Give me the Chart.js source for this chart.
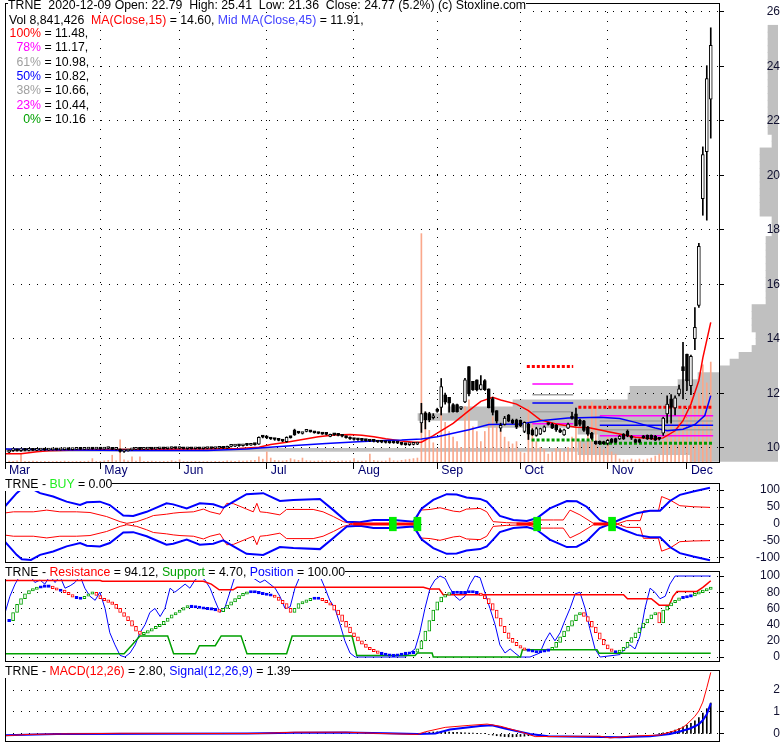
<!DOCTYPE html>
<html>
<head>
<meta charset="utf-8">
<title>TRNE</title>
<script src="https://cdn.jsdelivr.net/npm/chart.js@4.4.0/dist/chart.umd.min.js"></script>
<style>
  html, body { margin: 0; padding: 0; background: #fff; }
  #wrap { position: relative; width: 780px; height: 745px; overflow: hidden;
          font-family: Arial, "Liberation Sans", sans-serif; font-size: 12.3px; }
  canvas { position: absolute; left: 0; }
  .txt { position: absolute; white-space: pre; background: #fff; line-height: 14px; color: #000; }
  .pct { display: inline-block; width: 34px; text-align: right; }
</style>
</head>
<body>
<div id="wrap">
  <canvas id="cProfile" width="780" height="490" style="top:-10px"></canvas>
  <canvas id="cPrice" width="780" height="490" style="top:-10px"></canvas>
  <canvas id="cBuy" width="780" height="99" style="top:473px"></canvas>
  <canvas id="cPos" width="780" height="110" style="top:561px"></canvas>
  <canvas id="cMacd" width="780" height="91" style="top:660px"></canvas>

  <div class="txt" style="left:8px;top:-2px">TRNE  2020-12-09 Open: 22.79  High: 25.41  Low: 21.36  Close: 24.77 (5.2%) (c) Stoxline.com</div>
  <div class="txt" style="left:9px;top:13px">Vol 8,841,426  <span style="color:#ff0000">MA(Close,15)</span> = 14.60, <span style="color:#4040ff">Mid MA(Close,45)</span> = 11.91,</div>
  <div class="txt" style="left:7px;top:26px"><span class="pct" style="color:#ff0000">100%</span> = 11.48,</div>
  <div class="txt" style="left:7px;top:40px"><span class="pct" style="color:#ff00ff">78%</span> = 11.17,</div>
  <div class="txt" style="left:7px;top:55px"><span class="pct" style="color:#a0a0a0">61%</span> = 10.98,</div>
  <div class="txt" style="left:7px;top:69px"><span class="pct" style="color:#0000ff">50%</span> = 10.82,</div>
  <div class="txt" style="left:7px;top:83px"><span class="pct" style="color:#a0a0a0">38%</span> = 10.66,</div>
  <div class="txt" style="left:7px;top:98px"><span class="pct" style="color:#ff00ff">23%</span> = 10.44,</div>
  <div class="txt" style="left:7px;top:112px"><span class="pct" style="color:#00a000">0%</span> = 10.16</div>

  <div class="txt" style="left:5px;top:477px">TRNE - <span style="color:#22ee22">BUY</span> = 0.00</div>
  <div class="txt" style="left:5px;top:565px">TRNE - <span style="color:#ff0000">Resistance</span> = 94.12, <span style="color:#00a000">Support</span> = 4.70, <span style="color:#0000ff">Position</span> = 100.00</div>
  <div class="txt" style="left:5px;top:664px">TRNE - <span style="color:#ff0000">MACD(12,26)</span> = 2.80, <span style="color:#0000ff">Signal(12,26,9)</span> = 1.39</div>
</div>

<script>
// ==================== DATA ====================

// month labels on the time axis (bar index of first session of the month)
const monthIdx = [-1.04, 23, 43, 65, 87, 108, 129, 151, 171];
const monthNames = ['Mar', 'May', 'Jun', 'Jul', 'Aug', 'Sep', 'Oct', 'Nov', 'Dec'];

const priceTicks = [10, 12, 14, 16, 18, 20, 22, 24, 26];
const buyTicks = [-100, -50, 0, 50, 100];
const posTicks = [0, 20, 40, 60, 80, 100];
const macdTicks = [0, 1, 2];

// daily OHLC, 2020-03-30 .. 2020-12-09
const open = [
  9.84,9.89,9.92,9.89,9.92,9.90,9.91,9.90,9.91,9.92, 9.91,9.92,9.93,9.92,9.93,9.94,9.93,9.94,9.95,9.94,
  9.95,9.96,9.95,9.96,9.95,9.97,10.00,9.94,9.95,9.86, 9.88,9.92,9.94,9.95,9.94,9.95,9.96,9.95,9.96,9.97,
  9.96,9.97,10.01,9.97,10.00,9.96,9.97,9.96,9.97,9.96, 9.97,9.98,9.97,9.98,9.99,9.98,10.05,10.06,10.08,10.07,
  10.10,10.09,10.12,10.13,10.40,10.39,10.36,10.32,10.30,10.27, 10.22,10.38,10.65,10.55,10.52,10.60,10.61,10.56,10.55,10.52,
  10.50,10.41,10.49,10.47,10.44,10.42,10.38,10.32,10.30,10.29, 10.27,10.26,10.24,10.23,10.21,10.20,10.19,10.22,10.18,10.16,
  10.12,10.11,10.12,10.13,10.91,11.28,11.25,11.10,11.40,11.48, 11.94,11.85,11.58,11.58,11.44,11.68,12.98,12.44,12.49,12.14,
  12.46,12.16,11.80,11.36,10.72,10.85,11.20,11.00,11.02,11.00, 10.60,10.87,10.66,10.45,10.50,10.60,10.90,10.87,10.82,10.66,
  10.47,10.72,11.16,11.24,11.00,10.99,10.75,10.54,10.23,10.23, 10.22,10.16,10.32,10.33,10.32,10.50,10.60,10.40,10.30,10.30,
  10.43,10.45,10.45,10.43,10.33,10.53,11.24,11.79,11.46,11.97, 12.98,13.44,12.28,14.00,15.22,19.14,20.86,22.79
];
const high = [
  9.91,9.93,9.94,9.93,9.93,9.92,9.93,9.92,9.93,9.93, 9.93,9.94,9.94,9.94,9.95,9.95,9.95,9.96,9.96,9.96,
  9.97,9.98,9.97,9.98,9.98,10.02,10.01,9.96,9.96,9.89, 9.93,9.95,9.96,9.96,9.96,9.97,9.97,9.97,9.98,9.98,
  9.98,10.02,10.02,10.02,10.01,9.98,9.98,9.98,9.99,9.98, 9.99,9.99,9.99,10.00,10.01,10.06,10.08,10.09,10.10,10.11,
  10.12,10.13,10.14,10.40,10.43,10.41,10.37,10.34,10.31,10.29, 10.40,10.40,10.68,10.58,10.56,10.64,10.63,10.58,10.57,10.54,
  10.52,10.50,10.51,10.49,10.46,10.43,10.40,10.34,10.32,10.30, 10.29,10.28,10.26,10.25,10.23,10.22,10.21,10.23,10.20,10.17,
  10.14,10.13,10.14,10.20,11.63,11.32,11.30,11.25,11.45,12.54, 12.00,11.85,11.62,11.60,11.50,12.55,12.98,12.44,12.49,12.65,
  12.50,12.16,11.85,11.36,10.90,11.15,11.22,11.05,11.05,11.02, 10.95,10.90,10.70,10.75,10.72,10.80,10.92,10.90,10.85,10.70,
  10.68,10.90,11.30,11.45,11.05,11.00,10.78,10.56,10.25,10.25, 10.24,10.30,10.34,10.35,10.45,10.52,10.65,10.45,10.32,10.32,
  10.45,10.47,10.47,10.45,10.38,11.12,11.90,11.95,11.90,12.30, 13.87,13.44,13.40,15.14,17.50,21.04,24.02,25.41
];
const low = [
  9.82,9.86,9.87,9.86,9.88,9.88,9.89,9.89,9.90,9.90, 9.90,9.91,9.91,9.91,9.92,9.92,9.92,9.93,9.93,9.93,
  9.94,9.94,9.94,9.94,9.94,9.96,9.93,9.92,9.84,9.83, 9.87,9.91,9.93,9.93,9.93,9.94,9.94,9.94,9.95,9.95,
  9.95,9.96,9.96,9.96,9.95,9.94,9.95,9.95,9.95,9.95, 9.96,9.96,9.96,9.97,9.97,9.97,10.03,10.04,10.05,10.06,
  10.07,10.08,10.09,10.12,10.36,10.33,10.30,10.27,10.25,10.22, 10.20,10.35,10.45,10.52,10.50,10.58,10.57,10.53,10.51,10.49,
  10.47,10.40,10.45,10.43,10.40,10.35,10.30,10.28,10.27,10.25, 10.24,10.22,10.21,10.19,10.18,10.17,10.16,10.16,10.15,10.10,
  10.09,10.08,10.10,10.11,10.56,10.69,10.95,11.05,11.30,11.20, 11.60,11.30,11.30,11.30,11.40,11.65,11.90,12.10,12.08,12.12,
  12.10,11.46,11.20,10.90,10.60,10.83,10.95,10.88,10.70,10.78, 10.55,10.30,10.45,10.42,10.48,10.58,10.83,10.70,10.60,10.55,
  10.45,10.70,11.05,10.80,10.80,10.60,10.45,10.30,10.12,10.12, 10.12,10.10,10.17,10.18,10.30,10.30,10.40,10.30,10.18,10.18,
  10.34,10.30,10.30,10.26,10.28,10.45,10.90,10.90,11.20,11.90, 11.79,12.10,11.95,13.60,15.15,18.53,18.35,21.36
];
const close = [
  9.90,9.92,9.89,9.92,9.90,9.91,9.90,9.91,9.92,9.91, 9.92,9.93,9.92,9.93,9.94,9.93,9.94,9.95,9.94,9.95,
  9.96,9.95,9.96,9.95,9.97,10.00,9.94,9.95,9.86,9.88, 9.92,9.94,9.95,9.94,9.95,9.96,9.95,9.96,9.97,9.96,
  9.97,10.01,9.97,10.00,9.96,9.97,9.96,9.97,9.96,9.97, 9.98,9.97,9.98,9.99,9.98,10.05,10.06,10.08,10.07,10.10,
  10.09,10.12,10.11,10.38,10.39,10.36,10.32,10.30,10.27,10.24, 10.38,10.37,10.47,10.54,10.53,10.61,10.58,10.55,10.52,10.50,
  10.49,10.49,10.47,10.45,10.42,10.37,10.32,10.30,10.29,10.27, 10.26,10.24,10.23,10.21,10.20,10.19,10.18,10.18,10.17,10.12,
  10.11,10.12,10.13,10.18,11.25,11.03,11.03,11.13,11.33,12.24, 11.67,11.63,11.32,11.32,11.46,12.49,11.97,12.12,12.12,12.32,
  12.13,11.46,11.29,10.97,10.82,11.09,10.97,10.90,10.75,10.80, 10.93,10.50,10.47,10.70,10.70,10.77,10.85,10.72,10.65,10.57,
  10.66,10.87,11.07,10.81,10.85,10.63,10.50,10.34,10.14,10.14, 10.14,10.27,10.19,10.20,10.43,10.32,10.43,10.35,10.20,10.20,
  10.36,10.32,10.32,10.28,10.31,11.09,11.60,11.48,11.83,12.16, 12.83,12.46,13.35,14.42,17.39,20.76,23.55,24.77
];
// volume, millions of shares
const volume = [
  0.08,0.05,0.1,0.7,0.06,0.05,0.08,0.05,0.04,0.06, 0.05,0.04,0.06,0.05,0.08,0.05,0.04,0.05,0.06,0.05,
  0.08,0.3,0.05,0.06,0.1,0.15,0.6,0.1,1.95,0.2, 0.1,0.45,0.08,0.45,0.06,0.05,0.08,0.05,0.04,0.06,
  0.05,0.12,0.06,0.2,0.05,0.04,0.05,0.06,0.05,0.04, 0.05,0.04,0.06,0.05,0.06,0.1,0.08,0.06,0.1,0.08,
  0.1,0.12,0.15,0.45,0.25,0.9,0.35,0.15,0.12,0.1, 0.15,0.3,0.2,0.15,0.35,0.12,0.1,0.08,0.1,0.12,
  0.08,0.1,0.06,0.08,0.1,0.08,0.1,0.3,0.1,0.08, 0.1,0.7,0.15,0.1,0.08,0.1,0.35,0.12,0.1,0.15,
  0.2,0.25,0.3,0.35,20.2,4.4,2.8,1.7,1.2,5.3, 3.5,2.7,2.2,1.8,1.3,4.9,5.5,3.1,2.7,1.8,
  2.7,3.5,4.0,3.1,2.7,2.2,1.8,1.6,1.8,0.9, 0.8,4.9,3.5,1.8,1.3,1.1,0.7,0.9,1.2,1.1,
  0.9,1.3,2.2,3.5,1.8,1.6,2.7,5.3,4.9,1.3, 1.1,2.2,0.9,0.7,0.27,0.18,0.18,0.27,0.18,0.27,
  0.18,0.27,0.35,0.53,0.7,1.9,2.7,3.4,3.1,4.0, 4.8,4.2,5.7,4.9,6.1,8.6,7.0,8.84
];

// moving averages: [bar index, value]
const ma15 = [
  [-1,9.78],[3,9.78],[7,9.85],[10,9.89],[20,9.92],[30,9.93],[40,9.94],[50,9.95],[58,9.97],[63,10.02],
  [66,10.12],[70,10.2],[74,10.3],[78,10.4],[82,10.47],[86,10.48],[89,10.46],[92,10.4],[95,10.33],[99,10.25],
  [102,10.2],[104,10.2],[107,10.44],[112,10.89],[116,11.36],[119,11.7],[122,11.85],[124,11.75],[128,11.6],
  [131,11.36],[134,11.02],[138,10.87],[143,10.75],[146,10.74],[150,10.62],[154,10.5],[158,10.38],[163,10.32],
  [165,10.36],[168,10.62],[170,10.99],[172,11.6],[174,12.46],[175,13.3],[176,13.95],[177,14.6]
];
const ma45 = [
  [-1,9.95],[10,9.92],[30,9.9],[50,9.9],[60,9.95],[64,10.0],[72,10.08],[80,10.15],[88,10.22],[96,10.27],
  [99,10.28],[104,10.32],[108,10.4],[116,10.66],[121,10.85],[129,10.87],[134,10.99],[141,11.09],[149,11.12],
  [154,11.07],[158,10.93],[163,10.72],[166,10.62],[170,10.68],[173,10.85],[175.5,11.18],[177,11.91]
];

// Fibonacci retracement sets: levels 100,78,61,50,38,23,0 %
const fibA = [12.98, 12.34, 11.94, 11.64, 11.32, 10.88, 10.28];
const fibAFrom = [130.6, 132, 132, 132, 132, 132, 131.8];
const fibATo = [142.3, 142.3, 142.3, 142.3, 142.3, 142.3, 147.4];
const fibB = [11.48, 11.17, 10.98, 10.82, 10.66, 10.44, 10.16];
const fibBFrom = [143.6, 149, 149, 149, 149, 149, 148.8];
const fibBTo = [177.6, 177.6, 177.6, 177.6, 177.6, 177.6, 177.6];

// volume at price, bins of 0.25 starting at 9.5 (relative length)
const profileStart = 9.5;
const profileLen = [
  88, 200, 200, 180, 200, 300, 360, 330, 265, 150, 148, 100, 80, 58, 48, 39, 26, 22, 22, 26, 26, 26, 26,
  12, 12, 12, 12, 12, 12, 12, 12, 12, 12,
  6, 6, 6,
  18, 18, 18, 18, 18, 18, 18, 18, 18, 18,
  6, 6,
  10, 10, 10, 10, 10, 10, 10, 10, 10, 10, 10, 10, 10, 10, 10, 10
];
const profileMax = 773;
const profilePeak = [9.92, 773];

// BUY panel lines: [bar index, value]
const buyBlueUp = [
  [-1.5,46],[1.9,91],[3.2,104],[5.5,106],[7.8,91],[11.1,81],[14.5,66],[17.9,56],[19.6,64],[22.9,66],[25.4,56],
  [28.8,25],[31.3,24],[34.7,36],[39.7,61],[41.4,58],[44.8,46],[48.1,61],[51.5,58],[54,48],[56.6,66],[59.9,88],
  [64.1,91],[68.3,68],[71.7,71],[78.4,74],[81.8,41],[85.2,7],[88.5,5],[91.9,12],[97,12],[102,7],[104.1,46],
  [107,71],[110.4,88],[112.9,87],[115.4,78],[118.8,74],[120.5,66],[122.1,46],[123.8,24],[127.2,12],[130.6,9],
  [133.1,17],[136.4,46],[140.7,68],[143.2,67],[145.7,51],[149,12],[151.6,0],[154.9,17],[158.3,32],[161.7,39],
  [164.2,39],[166.7,68],[169.2,86],[172.6,96],[176.8,107]
];
const buyBlueDn = [
  [-1.5,-46],[1.9,-91],[3.2,-104],[5.5,-106],[7.8,-91],[11.1,-81],[14.5,-66],[17.9,-56],[19.6,-64],[22.9,-66],[25.4,-56],
  [28.8,-25],[31.3,-24],[34.7,-36],[39.7,-61],[41.4,-58],[44.8,-46],[48.1,-61],[51.5,-58],[54,-48],[56.6,-66],[59.9,-88],
  [64.1,-91],[68.3,-68],[71.7,-71],[78.4,-74],[81.8,-41],[85.2,-7],[88.5,-5],[91.9,-12],[97,-12],[102,-7],[104.1,-46],
  [107,-71],[110.4,-88],[112.9,-87],[115.4,-78],[118.8,-74],[120.5,-66],[122.1,-46],[123.8,-24],[127.2,-12],[130.6,-9],
  [133.1,-17],[136.4,-46],[140.7,-68],[143.2,-67],[145.7,-51],[149,-12],[151.6,0],[154.9,-17],[158.3,-32],[161.7,-39],
  [164.2,-39],[166.7,-68],[169.2,-86],[172.6,-96],[176.8,-107]
];
const buyRedUp = [
  [-1.5,32],[1.1,36],[6.1,36],[9.5,41],[12.8,36],[17,36],[20.4,34],[24.6,22],[28,7],[29.7,2],[32.2,7],[34.7,17],
  [36.4,25],[39.7,29],[41.4,32],[43.1,34],[46.5,36],[49,44],[50.7,36],[53.2,29],[54.9,61],[56.6,60],[59.9,44],
  [61.6,36],[62.5,61],[63.3,36],[65,34],[68.3,27],[70,43],[76.7,43],[79.2,36],[81.8,22],[84.3,7],[86.8,0],
  [102.4,0],[103.6,41],[106.2,43],[108.7,48],[112.1,38],[113.7,36],[115.4,44],[118.8,46],[120.5,36],[122.1,7],
  [125.5,4],[130.6,2],[133.9,12],[137.3,12],[139.8,12],[141.5,41],[144,27],[147.4,2],[150.8,0],[153.3,0],
  [155.8,10],[159.2,10],[160,39],[163.8,39],[164.6,81],[166.7,71],[169.2,54],[172.6,51],[176.8,49]
];
const buyRedDn = [
  [-1.5,-32],[1.1,-36],[6.1,-36],[9.5,-41],[12.8,-36],[17,-36],[20.4,-34],[24.6,-22],[28,-7],[29.7,-2],[32.2,-7],[34.7,-17],
  [36.4,-25],[39.7,-29],[41.4,-32],[43.1,-34],[46.5,-36],[49,-44],[50.7,-36],[53.2,-29],[54.9,-61],[56.6,-60],[59.9,-44],
  [61.6,-36],[62.5,-61],[63.3,-36],[65,-34],[68.3,-27],[70,-43],[76.7,-43],[79.2,-36],[81.8,-22],[84.3,-7],[86.8,0],
  [102.4,0],[103.6,-41],[106.2,-43],[108.7,-48],[112.1,-38],[113.7,-36],[115.4,-44],[118.8,-46],[120.5,-36],[122.1,-7],
  [125.5,-4],[130.6,-2],[133.9,-12],[137.3,-12],[139.8,-12],[141.5,-41],[144,-27],[147.4,-2],[150.8,0],[153.3,0],
  [155.8,-10],[159.2,-10],[160,-42],[163.8,-42],[164.6,-80],[166.7,-71],[169.2,-52],[172.6,-50],[176.8,-49]
];
// flat stretches of the BUY signal, [from, to]
const buyFlat = [[86.8, 103.6], [128, 132.5], [147.4, 153.3]];
// BUY signal markers (bar index)
const buySignals = [96.8, 103, 133.2, 152.1];

// Resistance / Support / Position panel
const resistance = [
  [-1,94.5],[23,94.5],[23.5,93.5],[49,93.5],[51,90],[53,83],[56.5,83],[57.5,86],[104.5,86],[106,84],[108.5,84],
  [109.5,77],[155,77],[156,72],[162,72],[164,64],[166.5,64],[167.5,75],[168.5,81],[173.5,81],[175,86],[176,90],[177,94.12]
];
const support = [
  [-1,4],[29,4],[31,15],[33,26],[40,26],[41.5,4],[47,4],[48,14],[52,14],[53.5,26],[58.5,26],[60,4],[70,4],
  [71.4,26],[86.5,26],[87.7,2],[102.4,2],[103,5],[106.7,5],[107,0],[129,0],[129.5,9],[148.3,9],[148.8,4.7],[177,4.7]
];
const position = [
  [-1,55],[0.2,75],[1.5,90],[2.7,100],[4,97],[5.3,100],[6.5,92],[7.8,95],[9,90],[10.3,100],[11.6,92],[12.8,100],
  [14.1,85],[15.4,88],[16.6,92],[17.9,100],[19.1,85],[20.4,75],[21.7,70],[22.9,80],[24.2,60],[25.4,30],[26.7,15],
  [28,2],[29.2,0],[30.5,5],[31.8,15],[33,30],[34.3,40],[35.5,55],[36.8,60],[38.1,50],[39.3,60],[40.6,85],[41.8,80],
  [43.1,85],[44.4,90],[45.6,85],[46.9,95],[48.1,100],[49.4,95],[50.7,85],[51.9,70],[53.2,55],[54.5,62],[55.7,80],
  [57,100],[60.8,100],[63.3,92],[64.5,95],[65.8,90],[67.1,85],[68.3,75],[69.6,60],[70.9,62],[72.1,85],[73.4,100],
  [78.4,100],[79.7,85],[80.9,70],[82.2,60],[83.5,40],[84.7,20],[86,5],[87.3,0],[99.9,0],[101.1,5],[102.4,10],
  [103.6,30],[104.9,60],[106.2,85],[107.4,95],[108.7,100],[110,97],[111.2,85],[112.5,75],[113.7,70],[115,75],
  [116.3,90],[117.5,100],[118.8,98],[120,80],[121.3,60],[122.6,40],[123.8,15],[125.1,5],[126.4,10],[127.6,5],
  [128.9,0],[131.4,0],[133.9,5],[135.2,20],[136.4,30],[137.7,20],[139,30],[140.2,45],[141.5,60],[142.8,78],
  [144,80],[145.3,60],[146.5,35],[147.8,10],[149.1,0],[154.1,3],[155.4,10],[156.6,15],[157.9,10],[159.1,25],
  [160.4,60],[161.7,85],[162.9,80],[164.2,72],[165.5,75],[166.7,90],[168,100],[177,100]
];
// smoothed oscillator drawn as boxes, one value per bar
const osc = [
  45,55,65,72,78,82,84,86,87,88, 87,85,83,82,80,77,74,73,72,75, 78,80,76,72,70,68,65,60,55,50,
  45,38,32,28,30,32,35,38,40,44, 48,52,55,58,61,63,62,62,61,60, 60,59,58,56,60,64,68,72,76,78,
  80,81,80,79,78,77,76,74,70,66, 60,55,60,66,68,70,72,73,72,70, 67,64,58,52,44,37,30,25,20,16,
  12,9,7,5,4,3,2,2,3,4, 5,5,6,10,20,32,45,58,68,74, 77,79,80,80,79,80,81,80,79,76,
  72,66,58,48,38,30,23,18,14,11, 9,8,7,6,7,8,9,12,18,25, 32,38,45,52,55,50,44,37,30,22,
  15,10,7,6,8,12,18,24,30,36, 42,47,52,55,42,58,63,67,70,73, 74,75,76,78,80,82,84,86
];

// MACD panel
const macdLine = [
  [-1,-0.08],[5,-0.02],[13,0],[28,0.03],[54,0.02],[63,0.02],[72,0.08],[85,0.08],[94,0.02],[103,-0.02],
  [105,0.1],[110,0.3],[116,0.39],[120.6,0.45],[124,0.35],[129,0.1],[132.7,-0.12],[149,-0.1],[151.6,-0.18],
  [156.6,-0.1],[164,-0.05],[166,0.05],[168,0.15],[170,0.3],[171,0.45],[172,0.62],[173,0.8],[174,1.05],
  [175,1.45],[176,2.1],[177,2.8]
];
const signalLine = [
  [-1,-0.06],[12,0],[60,0.02],[72,0.05],[85,0.07],[95,0.03],[103,0],[107.5,0.02],[111.2,0.2],[118.8,0.36],
  [121.8,0.4],[125.1,0.25],[131.4,0],[136,-0.1],[154,-0.15],[161.7,-0.1],[166.7,0],[169,0.1],[171.8,0.25],
  [173,0.35],[174,0.45],[175,0.62],[176,0.9],[177,1.39]
];
const macdHist = [
  [105,0.05],[106,0.07],[107,0.09],[108,0.1],[109,0.1],[110,0.1],[111,0.09],[112,0.08],[113,0.07],[114,0.06],
  [115,0.05],[116,0.04],[117,0.04],[118,0.03],[119,0.03],[120,0.02],[121,-0.02],[122,-0.05],[123,-0.08],
  [124,-0.1],[125,-0.12],[126,-0.13],[127,-0.13],[128,-0.12],[129,-0.11],[130,-0.1],[131,-0.08],[132,-0.06],
  [133,-0.04],[134,-0.02],[164,0.03],[165,0.05],[166,0.08],[167,0.12],[168,0.18],[169,0.25],[170,0.32],
  [171,0.4],[172,0.48],[173,0.6],[174,0.75],[175,0.95],[176,1.15],[177,1.41]
];

// ==================== LAYOUT / STYLE ====================

const X_MIN = -1.04;
const X_MAX = 179.08;
const AXIS_W = 61;
const PRICE_MIN = 9.475;
const PRICE_MAX = 26.32;
const PRICE_H = 459;            // plot height in px, used for the profile bar thickness
const DOT = [1, 7];
const VOL_COLOR = 'rgb(250,168,140)';
const FIB_COLORS = ['#ff0000', '#ff00ff', '#a0a0a0', '#0000ff', '#a0a0a0', '#ff00ff', '#009900'];

Chart.defaults.font.family = 'Arial, "Liberation Sans", sans-serif';
Chart.defaults.font.size = 12;
Chart.defaults.color = '#000';

// black frame round the plot area
const framePlugin = {
  id: 'frame',
  afterDraw(chart) {
    const { ctx, chartArea: a } = chart;
    ctx.save();
    ctx.strokeStyle = '#000';
    ctx.lineWidth = 1;
    ctx.strokeRect(Math.round(a.left) + 0.5, Math.round(a.top) + 0.5,
                   Math.round(a.right - a.left), Math.round(a.bottom - a.top));
    ctx.restore();
  }
};

// the axis label padding must not eat into the plot area
function noPad(s) {
  s.paddingTop = 0; s.paddingBottom = 0; s.paddingLeft = 0; s.paddingRight = 0;
}

function pts(pairs) {
  return pairs.map(p => ({ x: p[0], y: p[1] }));
}

function lineSet(pairs, color, width, extra) {
  return Object.assign({
    type: 'line', data: pts(pairs), borderColor: color, borderWidth: width,
    pointRadius: 0, tension: 0, fill: false, order: 3
  }, extra || {});
}

function rightAxis(min, max, ticks, pad) {
  return {
    position: 'right', min: min, max: max,
    afterBuildTicks: ax => { ax.ticks = ticks.map(v => ({ value: v })); },
    afterFit: s => { s.width = AXIS_W; noPad(s); },
    ticks: { padding: pad, crossAlign: 'far', color: '#101030', callback: v => String(v) },
    grid: { color: '#000', lineWidth: 1, tickLength: 5, tickColor: '#000' },
    border: { display: false, dash: DOT }
  };
}

function hiddenX() {
  return { type: 'linear', min: X_MIN, max: X_MAX, offset: false, display: false };
}

function baseOptions(scales, padding) {
  return {
    responsive: false, animation: false, devicePixelRatio: 1,
    layout: { padding: padding },
    plugins: { legend: { display: false }, tooltip: { enabled: false } },
    scales: scales
  };
}

// ==================== PRICE PANEL ====================

function fibSets(levels, from, to) {
  return levels.map((lv, k) => {
    const dotted = (k === 0 || k === levels.length - 1);
    return lineSet([[from[k], lv], [to[k], lv]], FIB_COLORS[k], dotted ? 3 : 1.5,
                   dotted ? { borderDash: [3, 2], order: 4 } : { order: 4 });
  });
}

function crearPrecio() {
  const idx = close.map((c, i) => i);
  const datasets = [
    { type: 'bar', data: idx.map(i => ({ x: i, y: volume[i] })), yAxisID: 'yv',
      backgroundColor: VOL_COLOR, barThickness: 1, grouped: false, order: 10 },
    ...fibSets(fibA, fibAFrom, fibATo),
    ...fibSets(fibB, fibBFrom, fibBTo),
    lineSet(ma45, '#0000ff', 1.5),
    lineSet(ma15, '#ff0000', 1.5),
    { type: 'bar', data: idx.map(i => ({ x: i, y: [low[i], high[i]] })),
      backgroundColor: '#000', barThickness: 1, grouped: false, order: 2 },
    { type: 'bar', data: idx.map(i => ({ x: i, y: [open[i], close[i]] })),
      backgroundColor: idx.map(i => close[i] >= open[i] ? '#fff' : '#000'),
      borderColor: '#000', borderWidth: 1, borderSkipped: false, minBarLength: 2,
      barThickness: 3, grouped: false, order: 1 }
  ];
  const scales = {
    x: {
      type: 'linear', min: X_MIN, max: X_MAX, offset: false,
      afterBuildTicks: ax => { ax.ticks = monthIdx.map(v => ({ value: v })); },
      afterFit: s => { s.height = 18; noPad(s); },
      ticks: {
        autoSkip: false, maxRotation: 0, align: 'start', labelOffset: 4, padding: -6,
        color: '#000070', font: { size: 12.3 },
        callback: v => { const k = monthIdx.indexOf(v); return k >= 0 ? monthNames[k] : ''; }
      },
      grid: { color: '#000', lineWidth: 1, tickLength: 7, tickColor: '#000', offset: false },
      border: { display: false, dash: [1, 8] }
    },
    y: rightAxis(PRICE_MIN, PRICE_MAX, priceTicks, 38),
    yv: { display: false, min: 0, max: 40.6 }
  };
  new Chart(document.getElementById('cPrice'), {
    type: 'bar', data: { datasets: datasets },
    options: baseOptions(scales, { left: 5, top: 13, right: 0, bottom: 0 }),
    plugins: [framePlugin]
  });
}

// volume-at-price histogram, drawn from the right edge
function crearPerfil() {
  const binPx = Math.ceil(0.25 * PRICE_H / (PRICE_MAX - PRICE_MIN));
  const data = profileLen.map((v, k) => ({ x: v, y: profileStart + 0.125 + k * 0.25 }));
  new Chart(document.getElementById('cProfile'), {
    type: 'bar',
    data: { datasets: [
      { data: data, backgroundColor: '#c0c0c0', barThickness: binPx, grouped: false },
      { data: [{ x: profilePeak[1], y: profilePeak[0] }], backgroundColor: '#c0c0c0', barThickness: 3, grouped: false }
    ]},
    options: Object.assign(baseOptions({
      x: { type: 'linear', min: 0, max: profileMax, reverse: true, display: false, offset: false },
      y: { type: 'linear', min: PRICE_MIN, max: PRICE_MAX, display: false, offset: false }
    }, { left: 5, top: 13, right: 2, bottom: 18 }), { indexAxis: 'y' })
  });
}

// ==================== BUY PANEL ====================

function crearBuy() {
  const flat = [];
  buyFlat.forEach(s => { flat.push({ x: s[0], y: 0 }, { x: s[1], y: 0 }, { x: s[1] + 0.1, y: null }); });
  const datasets = [
    lineSet(buyBlueUp, '#0000ff', 2),
    lineSet(buyBlueDn, '#0000ff', 2),
    lineSet(buyRedUp, '#ff0000', 1),
    lineSet(buyRedDn, '#ff0000', 1),
    { type: 'line', data: flat, borderColor: '#ff0000', borderWidth: 3, pointRadius: 0, spanGaps: false, order: 2 },
    { type: 'bar', data: buySignals.map(i => ({ x: i, y: [-20, 20] })), backgroundColor: '#00ee00',
      barThickness: 7, grouped: false, order: 1 }
  ];
  new Chart(document.getElementById('cBuy'), {
    type: 'bar', data: { datasets: datasets },
    options: baseOptions({ x: hiddenX(), y: rightAxis(-112, 121, buyTicks, 27) },
                         { left: 5, top: 10, right: 0, bottom: 10 }),
    plugins: [framePlugin]
  });
}

// ==================== RESISTANCE / SUPPORT / POSITION ====================

function crearPosicion() {
  const boxes = osc.map((v, i) => {
    const p = i ? osc[i - 1] : v;
    let lo = Math.min(p, v), hi = Math.max(p, v);
    if (hi - lo < 3) { const m = (hi + lo) / 2; lo = m - 1.5; hi = m + 1.5; }
    return { x: i, y: [lo, hi] };
  });
  const tone = osc.map((v, i) => {
    const p = i ? osc[i - 1] : v;
    return v > p + 1 ? '#00a000' : (v < p - 1 ? '#ff0000' : '#0000ff');
  });
  const datasets = [
    lineSet(support, '#00a000', 1.5),
    lineSet(resistance, '#ff0000', 1.5),
    lineSet(position, '#0000ff', 1),
    { type: 'bar', data: boxes, borderColor: tone,
      backgroundColor: tone.map(c => c === '#0000ff' ? c : '#fff'),
      borderWidth: 1, borderSkipped: false, barThickness: 3, grouped: false, order: 1 }
  ];
  new Chart(document.getElementById('cPos'), {
    type: 'bar', data: { datasets: datasets },
    options: baseOptions({ x: hiddenX(), y: rightAxis(-4.9, 106.2, posTicks, 31) },
                         { left: 5, top: 10, right: 0, bottom: 10 }),
    plugins: [framePlugin]
  });
}

// ==================== MACD ====================

function crearMacd() {
  const datasets = [
    { type: 'bar', data: pts(macdHist), backgroundColor: '#000', barThickness: 1, grouped: false, order: 5 },
    lineSet(signalLine, '#0000ff', 2),
    lineSet(macdLine, '#ff0000', 1, { order: 2 })
  ];
  new Chart(document.getElementById('cMacd'), {
    type: 'bar', data: { datasets: datasets },
    options: baseOptions({ x: hiddenX(), y: rightAxis(-0.32, 2.91, macdTicks, 44) },
                         { left: 5, top: 10, right: 0, bottom: 10 }),
    plugins: [framePlugin]
  });
}

// ==================== INIT ====================

crearPerfil();
crearPrecio();
crearBuy();
crearPosicion();
crearMacd();
</script>
</body>
</html>
